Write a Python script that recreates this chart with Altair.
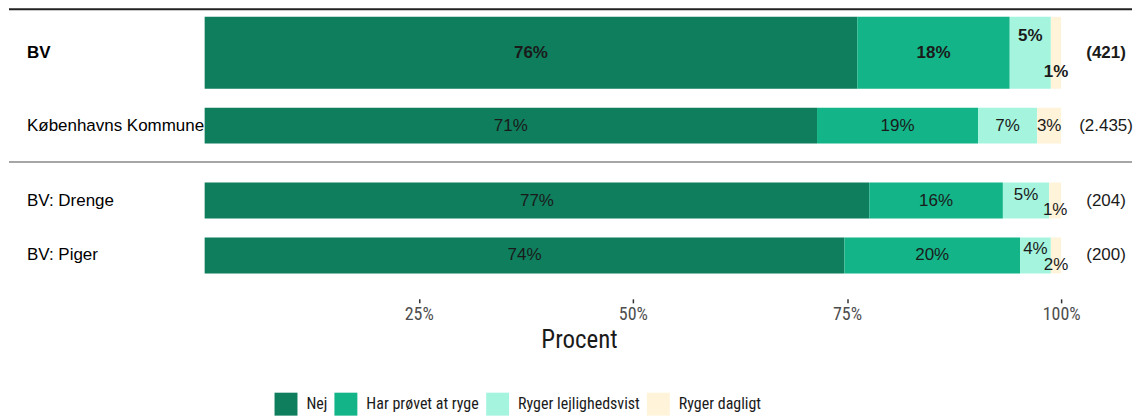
import altair as alt
import pandas as pd

# ---------------- data ----------------
groups = ["BV", "Københavns Kommune", "BV: Drenge", "BV: Piger"]
highlight = [True, False, False, False]
panel_of = ["top", "top", "bottom", "bottom"]
n_labels = ["(421)", "(2.435)", "(204)", "(200)"]

categories = ["Nej", "Har prøvet at ryge", "Ryger lejlighedsvist", "Ryger dagligt"]
colors = ["#0F7E5D", "#13B487", "#A5F5DE", "#FFF4DA"]

# shares (percent)
nej = [76.2, 71.5, 77.6, 74.7]
har = [17.8, 18.8, 15.6, 20.5]
lejl = [4.8, 6.9, 5.4, 3.6]
dagl = [1.2, 2.8, 1.4, 1.2]

# printed labels
nej_lbl = [76, 71, 77, 74]
har_lbl = [18, 19, 16, 20]
lejl_lbl = [5, 7, 5, 4]
dagl_lbl = [1, 3, 1, 2]

x_ticks = [25, 50, 75, 100]

# ---------------- tables ----------------
rows = []
for i, g in enumerate(groups):
    vals = [nej[i], har[i], lejl[i], dagl[i]]
    lbls = [nej_lbl[i], har_lbl[i], lejl_lbl[i], dagl_lbl[i]]
    stagger = lejl_lbl[i] <= 5
    start = 0.0
    for j, c in enumerate(categories):
        end = start + vals[j]
        shift = 0
        if stagger and j == 2:
            shift = -1
        if stagger and j == 3:
            shift = 1
        rows.append(dict(group=g, panel=panel_of[i], highlight=highlight[i],
                         category=c, start=start, end=end, mid=(start + end) / 2,
                         label=f"{lbls[j]}%", shift=shift))
        start = end
df = pd.DataFrame(rows)
gdf = pd.DataFrame(dict(group=groups, panel=panel_of, highlight=highlight, n=n_labels))

W = 858
NARROW = "Liberation Sans Narrow, Roboto Condensed, Arial Narrow, Roboto"
SANS = "Liberation Sans, Arial, Helvetica"

legend_def = alt.Legend(
    orient="none", legendX=70, legendY=377, direction="horizontal", title=None,
    symbolType="square", symbolSize=529, symbolStrokeWidth=0, symbolOpacity=1,
    labelFont=NARROW, labelFontSize=16, labelColor="#1a1a1a",
    labelOffset=9, columnPadding=7,
)


def panel(pname, H, with_axis):
    d = df[df.panel == pname]
    gd = gdf[gdf.panel == pname]
    order = list(gd.group)
    yenc = alt.Y("group:N", sort=order, axis=None,
                 scale=alt.Scale(paddingInner=0, paddingOuter=0))
    if with_axis:
        xaxis = alt.Axis(values=x_ticks, labelExpr="datum.value + '%'", domain=False,
                         grid=False, tickSize=4, tickColor="#333333", tickWidth=1.5,
                         labelColor="#4d4d4d", labelFont=NARROW, labelFontSize=18,
                         labelPadding=3, offset=16, labelFlush=False,
                         title="Procent", titleFont=NARROW, titleFontSize=25,
                         titleFontWeight="normal", titleColor="#1a1a1a",
                         titleX=375, titleY=49, titleBaseline="alphabetic",
                         titleAlign="center")
    else:
        xaxis = None
    xscale = alt.Scale(domain=[0, 100], nice=False, zero=False)

    base = alt.Chart(d).encode(y=yenc)
    bars = base.mark_bar().encode(
        x=alt.X("start:Q", scale=xscale, axis=xaxis),
        x2="end:Q",
        color=alt.Color("category:N", scale=alt.Scale(domain=categories, range=colors),
                        legend=legend_def),
        size=alt.condition("datum.highlight", alt.value(72), alt.value(36)),
    )

    def txt(expr, dy, hl):
        weight = "bold" if hl else "normal"
        hexpr = "datum.highlight" if hl else "!datum.highlight"
        return base.mark_text(font=SANS, fontSize=17, dy=dy, color="#1a1a1a",
                              fontWeight=weight).encode(
            x=alt.X("mid:Q", scale=xscale), text="label:N"
        ).transform_filter(f"({expr}) && {hexpr}")

    texts = [
        txt("datum.shift == 0", 0, True),
        txt("datum.shift == 0", 0, False),
        txt("datum.shift == -1", -17, True),
        txt("datum.shift == 1", 19, True),
        txt("datum.shift == -1", -6, False),
        txt("datum.shift == 1", 10, False),
    ]

    def glab(hl):
        weight = "bold" if hl else "normal"
        hexpr = "datum.highlight" if hl else "!datum.highlight"
        gb = alt.Chart(gd).encode(y=yenc).transform_filter(hexpr)
        a = gb.mark_text(font=SANS, fontSize=17, align="left", color="#000000",
                         fontWeight=weight).encode(x=alt.value(-178), text="group:N")
        b = gb.mark_text(font=SANS, fontSize=17, align="center", color="#1a1a1a",
                         fontWeight=weight).encode(x=alt.value(W + 45), text="n:N")
        return [a, b]

    one = pd.DataFrame({"k": [0]})
    layers = [bars] + texts + glab(True) + glab(False)
    if pname == "top":
        top_rule = alt.Chart(one).mark_rule(color="#222222", strokeWidth=2).encode(
            x=alt.value(-196), x2=alt.value(W + 71), y=alt.value(-7))
        sep_rule = alt.Chart(one).mark_rule(color="#a6a6a6", strokeWidth=2).encode(
            x=alt.value(-196), x2=alt.value(W + 71), y=alt.value(H))
        layers += [top_rule, sep_rule]
    return alt.layer(*layers).properties(width=W, height=H)


top = panel("top", 146, False)
bottom = panel("bottom", 110, True)

chart = alt.vconcat(top, bottom, spacing=10).resolve_scale(
    x="independent", y="independent", color="shared"
).properties(padding=0).configure_view(stroke=None)

chart.save("out.html", embed_options={"renderer": "svg", "actions": False})
